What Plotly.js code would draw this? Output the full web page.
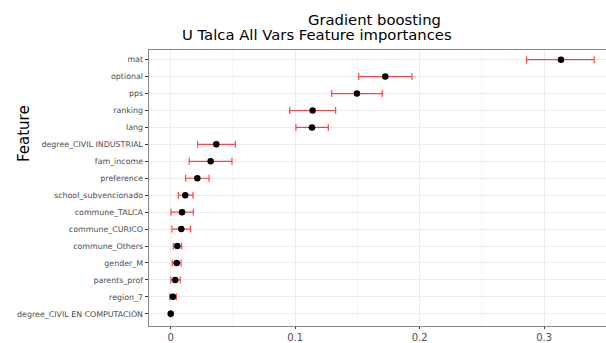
<!DOCTYPE html>
<html><head><meta charset="utf-8">
<script src="https://cdn.plot.ly/plotly-3.0.1.min.js"></script>
<style>html,body{margin:0;padding:0;background:#fff}#chart{width:606px;height:343px}</style>
</head><body><div id="chart"></div>
<script>
const features = ["mat","optional","pps","ranking","lang","degree_CIVIL INDUSTRIAL","fam_income","preference","school_subvencionado","commune_TALCA","commune_CURICO","commune_Others","gender_M","parents_prof","region_7","degree_CIVIL EN COMPUTACIÓN"];
const importance = [0.3135,0.1724,0.1496,0.1140,0.1135,0.0366,0.0321,0.0214,0.0117,0.0091,0.0085,0.0053,0.0048,0.0037,0.0018,0.0000];
const lower = [0.2859,0.1510,0.1293,0.0956,0.1006,0.0217,0.0149,0.0120,0.0061,0.0002,0.0010,0.0021,0.0013,0.0002,-0.0008,-0.0005];
const upper = [0.3402,0.1938,0.1700,0.1325,0.1266,0.0519,0.0492,0.0308,0.0179,0.0182,0.0160,0.0088,0.0083,0.0077,0.0045,0.0005];
const xTicks = [0,0.1,0.2,0.3];
const xTickLabels = ["0","0.1","0.2","0.3"];
const titleLine1 = "Gradient boosting";
const titleLine2 = "U Talca All Vars Feature importances";
const yTitle = "Feature";

const errPlus = upper.map((u,i)=>u-importance[i]);
const errMinus = lower.map((l,i)=>importance[i]-l);

const trace = {
  type:'scatter', mode:'markers', x: importance, y: features,
  marker:{color:'#000', size:6.5},
  error_x:{type:'data', symmetric:false, array:errPlus, arrayminus:errMinus,
    color:'rgba(255,0,0,0.72)', thickness:1.2, width:3.5},
  hoverinfo:'none', cliponaxis:false
};
const n = features.length;
const layout = {
  width:606, height:343,
  margin:{l:149, r:0, t:50, b:17},
  paper_bgcolor:'#fff', plot_bgcolor:'#fff',
  showlegend:false,
  font:{family:'DejaVu Sans', color:'#4d4d4d'},
  xaxis:{range:[-0.01743,0.3497], tickvals:xTicks, ticktext:xTickLabels,
    showgrid:true, gridcolor:'#ebebeb', gridwidth:1,
    minor:{dtick:0.05, tick0:0, showgrid:true, gridcolor:'#f6f6f6', gridwidth:1},
    zeroline:false, showline:true, linecolor:'#888', linewidth:1.4, mirror:true,
    ticks:'outside', ticklen:2, tickcolor:'#333', tickwidth:1,
    tickfont:{size:10, color:'#4d4d4d', family:'DejaVu Sans'}},
  yaxis:{type:'category', categoryorder:'array', categoryarray:features,
    range:[n-1+0.72, -0.57],
    showgrid:true, gridcolor:'#ebebeb', gridwidth:1,
    zeroline:false, showline:true, linecolor:'#888', linewidth:1.4, mirror:false,
    ticks:'outside', ticklen:3, tickcolor:'#333', tickwidth:1,
    tickfont:{size:7.9, color:'#4d4d4d', family:'DejaVu Sans'}},
  annotations:[
    {text:titleLine1, xref:'paper', yref:'paper', x:(374-149)/457, y:1+(50-19.5)/276, xanchor:'center', yanchor:'middle', borderpad:0, showarrow:false, font:{size:14.8, color:'#000', family:'DejaVu Sans'}},
    {text:titleLine2, xref:'paper', yref:'paper', x:(317-149)/457, y:1+(50-35)/276, xanchor:'center', yanchor:'middle', borderpad:0, showarrow:false, font:{size:14.8, color:'#000', family:'DejaVu Sans'}},
    {text:yTitle, xref:'paper', yref:'paper', x:-(149-24)/457, y:(326-134)/276, xanchor:'center', yanchor:'middle', textangle:-90, showarrow:false, font:{size:15, color:'#000', family:'DejaVu Sans'}}
  ]
};
Plotly.newPlot('chart',[trace],layout,{staticPlot:true, displayModeBar:false});
</script></body></html>
